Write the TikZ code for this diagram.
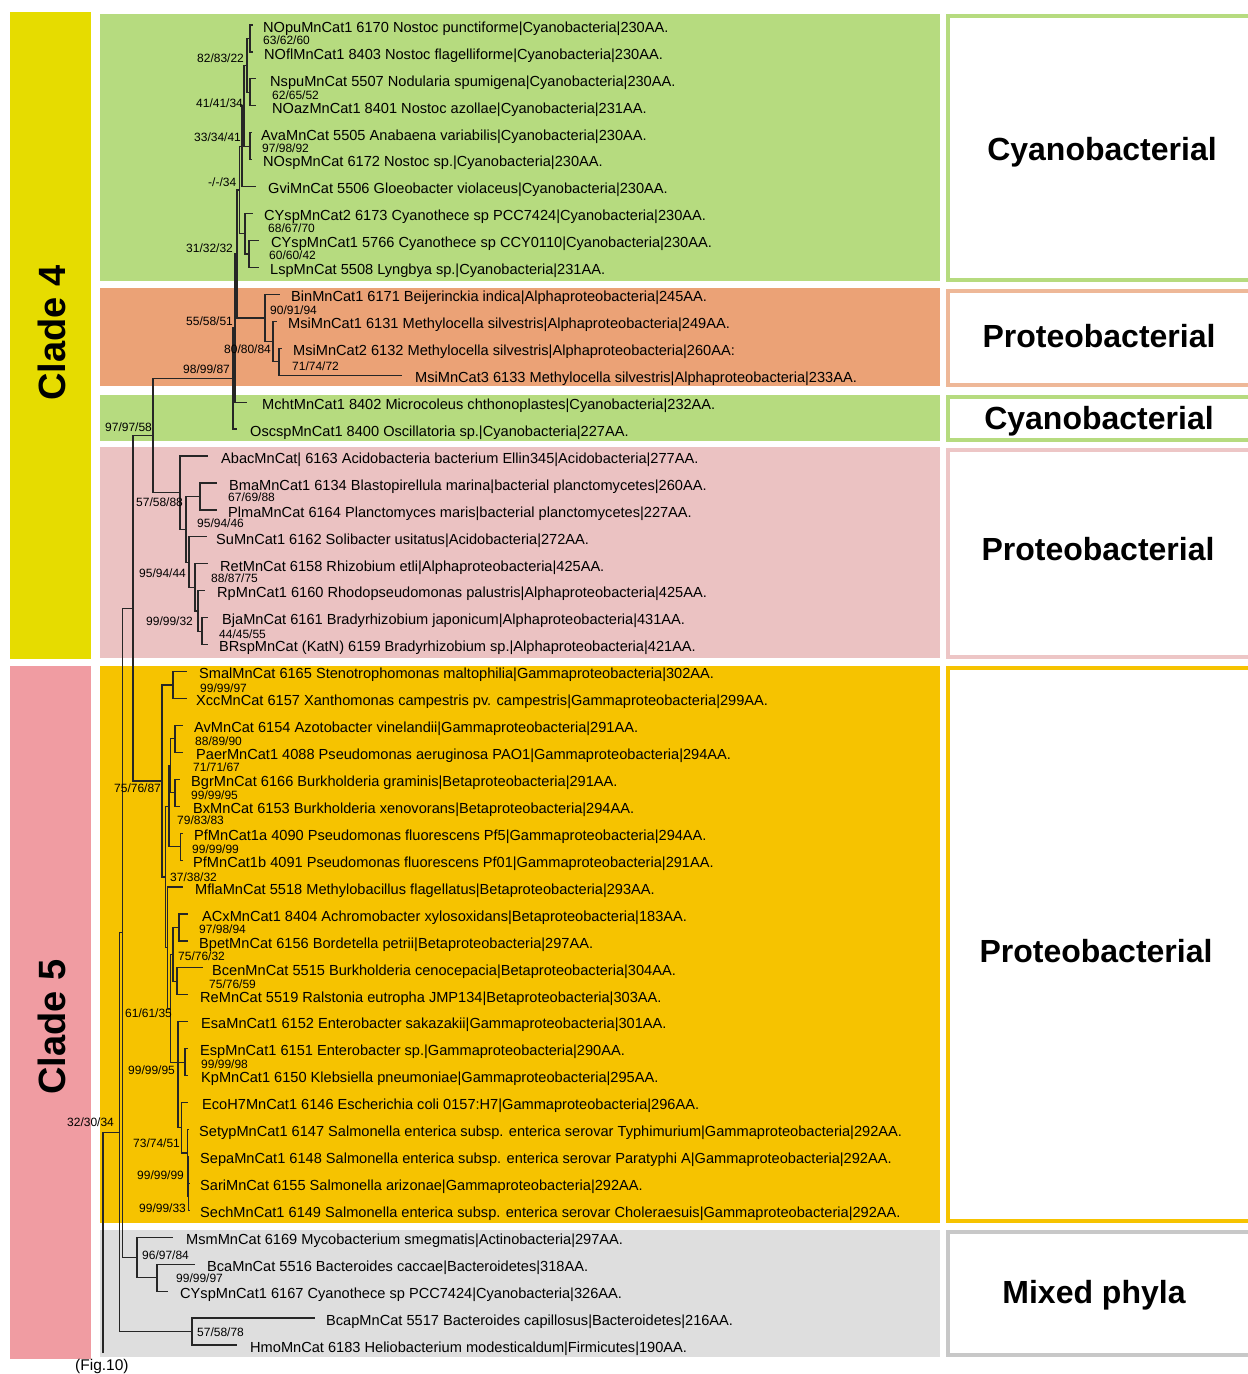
\documentclass[tikz,border=0pt]{standalone}
\usepackage{fontspec}
\setmainfont{Liberation Sans}
\usetikzlibrary{calc}
\definecolor{cgreen}{HTML}{B6DB7F}
\definecolor{corange}{HTML}{EBA276}
\definecolor{cpink}{HTML}{EBC2C2}
\definecolor{cgold}{HTML}{F6C300}
\definecolor{cgray}{HTML}{DEDEDE}
\definecolor{cyellow}{HTML}{E6DC00}
\definecolor{cclade}{HTML}{F09CA2}
\definecolor{oorange}{HTML}{EEB898}
\definecolor{opink}{HTML}{EDC6C6}
\definecolor{ogray}{HTML}{C8C8C8}
\newcommand\lf[5]{\node[lf] (#1) at (#4,#2+1.5) {#5};\coordinate (#1e) at (#3,#2-2);}
\newcommand\br[2]{\draw[tr] (#1) |- (#2);}
\newcommand\bsl[3]{\node[bs] (#1) at (#2) {#3};}
\begin{document}
\begin{tikzpicture}[x=1pt,y=-1pt,
  lf/.style={anchor=west, inner sep=0pt, font=\fontsize{14.6}{17}\selectfont, text height=10.5pt, text depth=3pt},
  bs/.style={anchor=west, inner sep=0pt, font=\fontsize{12}{14}\selectfont},
  tr/.style={draw=black!85, line width=1.2pt},
  ob/.style={line width=4pt},
  bl/.style={font=\fontsize{32}{36}\selectfont\bfseries, inner sep=0pt},
  cl/.style={font=\fontsize{38}{42}\selectfont\bfseries, inner sep=0pt, rotate=90}]
\path[use as bounding box] (0,0) rectangle (1248,1374);
\fill[white] (0,0) rectangle (1248,1374);
% clade bars
\fill[cyellow] (10,12) rectangle (91,659);
\fill[cclade] (10,666) rectangle (91,1359);
% colour bands
\fill[cgreen] (100,14) rectangle (940,281);
\fill[corange] (100,288) rectangle (940,386);
\fill[cgreen] (100,395) rectangle (940,441);
\fill[cpink] (100,447) rectangle (940,658);
\fill[cgold] (100,666) rectangle (940,1223);
\fill[cgray] (100,1230) rectangle (940,1357);
% right boxes
\begin{scope}
\clip (0,0) rectangle (1248,1374);
\draw[ob, draw=cgreen] (948,15.5) rectangle (1262,279.5);
\draw[ob, draw=oorange] (948,290.5) rectangle (1262,384.5);
\draw[ob, draw=cgreen] (948,397) rectangle (1262,439.5);
\draw[ob, draw=opink] (948,449.5) rectangle (1262,656.5);
\draw[ob, draw=cgold] (948,668) rectangle (1262,1221);
\draw[ob, draw=ogray] (948,1232) rectangle (1262,1355);
\end{scope}
\node[bl] (lab1) at (1102,152.5) {Cyanobacterial};
\node[bl] (lab2) at (1099,336.5) {Proteobacterial};
\node[bl] (lab3) at (1099,421.5) {Cyanobacterial};
\node[bl] (lab4) at (1098,549.5) {Proteobacterial};
\node[bl] (lab5) at (1096,951.5) {Proteobacterial};
\node[bl] (lab6) at (1094,1295.5) {Mixed phyla};
\node[cl] (clade4) at (52,333) {Clade 4};
\node[cl] (clade5) at (52,1027) {Clade 5};
\node[lf, anchor=west, font=\fontsize{15.5}{18}\selectfont] (fig) at (75,1367) {(Fig.10)};
% leaves
\lf{t1}{27}{253}{263}{NOpuMnCat1 6170 Nostoc punctiforme|Cyanobacteria|230AA.}
\lf{t2}{53.94}{253}{264}{NOflMnCat1 8403 Nostoc flagelliforme|Cyanobacteria|230AA.}
\lf{t3}{80.88}{256}{270}{NspuMnCat 5507 Nodularia spumigena|Cyanobacteria|230AA.}
\lf{t4}{107.82}{256}{272}{NOazMnCat1 8401 Nostoc azollae|Cyanobacteria|231AA.}
\lf{t5}{134.76}{252}{261}{AvaMnCat 5505 Anabaena variabilis|Cyanobacteria|230AA.}
\lf{t6}{161.7}{252}{263}{NOspMnCat 6172 Nostoc sp.|Cyanobacteria|230AA.}
\lf{t7}{188.63}{256}{268}{GviMnCat 5506 Gloeobacter violaceus|Cyanobacteria|230AA.}
\lf{t8}{215.57}{253}{264}{CYspMnCat2 6173 Cyanothece sp PCC7424|Cyanobacteria|230AA.}
\lf{t9}{242.51}{259}{271}{CYspMnCat1 5766 Cyanothece sp CCY0110|Cyanobacteria|230AA.}
\lf{t10}{269.45}{259}{270}{LspMnCat 5508 Lyngbya sp.|Cyanobacteria|231AA.}
\lf{t11}{296.39}{280}{291}{BinMnCat1 6171 Beijerinckia indica|Alphaproteobacteria|245AA.}
\lf{t12}{323.33}{277}{288}{MsiMnCat1 6131 Methylocella silvestris|Alphaproteobacteria|249AA.}
\lf{t13}{350.27}{282}{293}{MsiMnCat2 6132 Methylocella silvestris|Alphaproteobacteria|260AA:}
\lf{t14}{377.2}{402}{415}{MsiMnCat3 6133 Methylocella silvestris|Alphaproteobacteria|233AA.}
\lf{t15}{404.14}{247}{262}{MchtMnCat1 8402 Microcoleus chthonoplastes|Cyanobacteria|232AA.}
\lf{t16}{431.08}{237}{250}{OscspMnCat1 8400 Oscillatoria sp.|Cyanobacteria|227AA.}
\lf{t17}{458.02}{208}{221}{AbacMnCat| 6163 Acidobacteria bacterium Ellin345|Acidobacteria|277AA.}
\lf{t18}{484.96}{217}{229}{BmaMnCat1 6134 Blastopirellula marina|bacterial planctomycetes|260AA.}
\lf{t19}{511.9}{217}{228}{PlmaMnCat 6164 Planctomyces maris|bacterial planctomycetes|227AA.}
\lf{t20}{538.84}{207}{216}{SuMnCat1 6162 Solibacter usitatus|Acidobacteria|272AA.}
\lf{t21}{565.78}{208}{220}{RetMnCat 6158 Rhizobium etli|Alphaproteobacteria|425AA.}
\lf{t22}{592.71}{205}{217}{RpMnCat1 6160 Rhodopseudomonas palustris|Alphaproteobacteria|425AA.}
\lf{t23}{619.65}{208}{222}{BjaMnCat 6161 Bradyrhizobium japonicum|Alphaproteobacteria|431AA.}
\lf{t24}{646.59}{208}{219}{BRspMnCat (KatN) 6159 Bradyrhizobium sp.|Alphaproteobacteria|421AA.}
\lf{t25}{673.53}{187}{199}{SmalMnCat 6165 Stenotrophomonas maltophilia|Gammaproteobacteria|302AA.}
\lf{t26}{700.47}{187}{196}{XccMnCat 6157 Xanthomonas campestris pv. campestris|Gammaproteobacteria|299AA.}
\lf{t27}{727.41}{183}{194}{AvMnCat 6154 Azotobacter vinelandii|Gammaproteobacteria|291AA.}
\lf{t28}{754.35}{183}{196}{PaerMnCat1 4088 Pseudomonas aeruginosa PAO1|Gammaproteobacteria|294AA.}
\lf{t29}{781.29}{180}{191}{BgrMnCat 6166 Burkholderia graminis|Betaproteobacteria|291AA.}
\lf{t30}{808.22}{180}{193}{BxMnCat 6153 Burkholderia xenovorans|Betaproteobacteria|294AA.}
\lf{t31}{835.16}{183}{194}{PfMnCat1a 4090 Pseudomonas fluorescens Pf5|Gammaproteobacteria|294AA.}
\lf{t32}{862.1}{183}{193}{PfMnCat1b 4091 Pseudomonas fluorescens Pf01|Gammaproteobacteria|291AA.}
\lf{t33}{889.04}{183}{195}{MflaMnCat 5518 Methylobacillus flagellatus|Betaproteobacteria|293AA.}
\lf{t34}{915.98}{188}{202}{ACxMnCat1 8404 Achromobacter xylosoxidans|Betaproteobacteria|183AA.}
\lf{t35}{942.92}{188}{199}{BpetMnCat 6156 Bordetella petrii|Betaproteobacteria|297AA.}
\lf{t36}{969.86}{203}{212}{BcenMnCat 5515 Burkholderia cenocepacia|Betaproteobacteria|304AA.}
\lf{t37}{996.8}{188}{200}{ReMnCat 5519 Ralstonia eutropha JMP134|Betaproteobacteria|303AA.}
\lf{t38}{1023.73}{188}{201}{EsaMnCat1 6152 Enterobacter sakazakii|Gammaproteobacteria|301AA.}
\lf{t39}{1050.67}{188}{200}{EspMnCat1 6151 Enterobacter sp.|Gammaproteobacteria|290AA.}
\lf{t40}{1077.61}{188}{201}{KpMnCat1 6150 Klebsiella pneumoniae|Gammaproteobacteria|295AA.}
\lf{t41}{1104.55}{188}{202}{EcoH7MnCat1 6146 Escherichia coli 0157:H7|Gammaproteobacteria|296AA.}
\lf{t42}{1131.49}{189}{199}{SetypMnCat1 6147 Salmonella enterica subsp. enterica serovar Typhimurium|Gammaproteobacteria|292AA.}
\lf{t43}{1158.43}{189}{200}{SepaMnCat1 6148 Salmonella enterica subsp. enterica serovar Paratyphi A|Gammaproteobacteria|292AA.}
\lf{t44}{1185.37}{189}{200}{SariMnCat 6155 Salmonella arizonae|Gammaproteobacteria|292AA.}
\lf{t45}{1212.31}{189}{200}{SechMnCat1 6149 Salmonella enterica subsp. enterica serovar Choleraesuis|Gammaproteobacteria|292AA.}
\lf{t46}{1239.24}{173}{186}{MsmMnCat 6169 Mycobacterium smegmatis|Actinobacteria|297AA.}
\lf{t47}{1266.18}{195}{207}{BcaMnCat 5516 Bacteroides caccae|Bacteroidetes|318AA.}
\lf{t48}{1293.12}{168}{180}{CYspMnCat1 6167 Cyanothece sp PCC7424|Cyanobacteria|326AA.}
\lf{t49}{1320.06}{315}{326}{BcapMnCat 5517 Bacteroides capillosus|Bacteroidetes|216AA.}
\lf{t50}{1347}{237}{250}{HmoMnCat 6183 Heliobacterium modesticaldum|Firmicutes|190AA.}
% internal nodes
\coordinate (N1) at (250,38.47);
\coordinate (N3) at (250,92.35);
\coordinate (N2) at (247,65.41);
\coordinate (N4) at (250,146.23);
\coordinate (N5) at (244,105.82);
\coordinate (N6) at (242,146.23);
\coordinate (N9) at (249,253.98);
\coordinate (N8) at (245,233.78);
\coordinate (N7) at (239.5,190.0);
\coordinate (B1) at (279,361.74);
\coordinate (B2) at (273,341.53);
\coordinate (B3) at (265,317.96);
\coordinate (Q) at (237,253.98);
\coordinate (P) at (235,328.06);
\coordinate (R4) at (233,378.57);
\coordinate (G1) at (200,496.43);
\coordinate (G2) at (202,631.12);
\coordinate (G3) at (198,610.92);
\coordinate (G4) at (195,587.35);
\coordinate (G5) at (189,562.1);
\coordinate (G6) at (186,529.27);
\coordinate (G7) at (180,492.65);
\coordinate (C4) at (153,435.61);
\coordinate (Y1) at (173,685.0);
\coordinate (Y2) at (175,738.88);
\coordinate (Y3) at (175,792.76);
\coordinate (Y4) at (170.5,765.82);
\coordinate (Y5) at (180.5,846.63);
\coordinate (Y6) at (169,806.22);
\coordinate (Y9) at (179,927.45);
\coordinate (Y10) at (177,981.33);
\coordinate (Y11) at (173,954.39);
\coordinate (Y12) at (185,1062.14);
\coordinate (S1) at (188.5,1196.84);
\coordinate (S2) at (188,1176.63);
\coordinate (S3) at (187.5,1153.06);
\coordinate (Y13) at (181.5,1127.8);
\coordinate (Y15) at (178,1062.14);
\coordinate (Y16) at (170.5,1008.27);
\coordinate (X) at (167.5,947.65);
\coordinate (Y8) at (165.5,876.94);
\coordinate (G) at (162,780.97);
\coordinate (A133) at (133,608.29);
\coordinate (M2) at (157,1277.65);
\coordinate (M) at (137,1257.45);
\coordinate (A122) at (122.5,932.87);
\coordinate (B2x) at (192,1331.53);
\coordinate (A120) at (119.5,1132.2);
\coordinate (root) at (103,1132.2);
\coordinate (rootb) at (103,1353);
% branches
\br{N1}{t1e}\br{N1}{t2e}
\br{N3}{t3e}\br{N3}{t4e}
\br{N2}{N1}\br{N2}{N3}
\br{N4}{t5e}\br{N4}{t6e}
\br{N5}{N2}\br{N5}{N4}
\br{N6}{N5}\br{N6}{t7e}
\br{N9}{t9e}\br{N9}{t10e}
\br{N8}{t8e}\br{N8}{N9}
\br{N7}{N6}\br{N7}{N8}
\br{B1}{t13e}\br{B1}{t14e}
\br{B2}{t12e}\br{B2}{B1}
\br{B3}{t11e}\br{B3}{B2}
\br{Q}{N7}\br{Q}{B3}
\br{P}{Q}\br{P}{t15e}
\br{R4}{P}\br{R4}{t16e}
\br{G1}{t18e}\br{G1}{t19e}
\br{G2}{t23e}\br{G2}{t24e}
\br{G3}{t22e}\br{G3}{G2}
\br{G4}{t21e}\br{G4}{G3}
\br{G5}{t20e}\br{G5}{G4}
\br{G6}{G1}\br{G6}{G5}
\br{G7}{t17e}\br{G7}{G6}
\br{C4}{R4}\br{C4}{G7}
\br{Y1}{t25e}\br{Y1}{t26e}
\br{Y2}{t27e}\br{Y2}{t28e}
\br{Y3}{t29e}\br{Y3}{t30e}
\br{Y4}{Y2}\br{Y4}{Y3}
\br{Y5}{t31e}\br{Y5}{t32e}
\br{Y6}{Y4}\br{Y6}{Y5}
\br{Y9}{t34e}\br{Y9}{t35e}
\br{Y10}{t36e}\br{Y10}{t37e}
\br{Y11}{Y9}\br{Y11}{Y10}
\br{Y12}{t39e}\br{Y12}{t40e}
\br{S1}{t44e}\br{S1}{t45e}
\br{S2}{t43e}\br{S2}{S1}
\br{S3}{t42e}\br{S3}{S2}
\br{Y13}{t41e}\br{Y13}{S3}
\br{Y15}{t38e}\br{Y15}{Y12}\br{Y15}{Y13}
\br{Y16}{Y11}\br{Y16}{Y15}
\br{X}{t33e}\br{X}{Y16}
\br{Y8}{Y6}\br{Y8}{X}
\br{G}{Y1}\br{G}{Y8}
\br{A133}{C4}\br{A133}{G}
\br{M2}{t47e}\br{M2}{t48e}
\br{M}{t46e}\br{M}{M2}
\br{A122}{A133}\br{A122}{M}
\br{B2x}{t49e}\br{B2x}{t50e}
\br{A120}{A122}\br{A120}{B2x}
\draw[tr] (rootb) -- (root) -- (A120);
% bootstrap values
\bsl{b1}{263,40}{63/62/60}
\bsl{b2}{197,58}{82/83/22}
\bsl{b3}{272,95}{62/65/52}
\bsl{b4}{196,103}{41/41/34}
\bsl{b5}{194,137}{33/34/41}
\bsl{b6}{262,148}{97/98/92}
\bsl{b7}{208,182}{-/-/34}
\bsl{b8}{268,228}{68/67/70}
\bsl{b9}{186,248}{31/32/32}
\bsl{b10}{269,255}{60/60/42}
\bsl{b11}{270,310}{90/91/94}
\bsl{b12}{186,321}{55/58/51}
\bsl{b13}{224,349}{80/80/84}
\bsl{b14}{292,366}{71/74/72}
\bsl{b15}{183,369}{98/99/87}
\bsl{b16}{105,427}{97/97/58}
\bsl{b17}{228,497}{67/69/88}
\bsl{b18}{136,502}{57/58/88}
\bsl{b19}{197,523}{95/94/46}
\bsl{b20}{139,573}{95/94/44}
\bsl{b21}{211,578}{88/87/75}
\bsl{b22}{146,621}{99/99/32}
\bsl{b23}{219,634}{44/45/55}
\bsl{b24}{200,688}{99/99/97}
\bsl{b25}{195,741}{88/89/90}
\bsl{b26}{193,767}{71/71/67}
\bsl{b27}{114,788}{75/76/87}
\bsl{b28}{191,795}{99/99/95}
\bsl{b29}{177,820}{79/83/83}
\bsl{b30}{192,849}{99/99/99}
\bsl{b31}{170,877}{37/38/32}
\bsl{b32}{199,929}{97/98/94}
\bsl{b33}{178,956}{75/76/32}
\bsl{b34}{209,984}{75/76/59}
\bsl{b35}{125,1013}{61/61/35}
\bsl{b36}{201,1064}{99/99/98}
\bsl{b37}{128,1070}{99/99/95}
\bsl{b38}{67,1122}{32/30/34}
\bsl{b39}{133,1143}{73/74/51}
\bsl{b40}{137,1175}{99/99/99}
\bsl{b41}{139,1208}{99/99/33}
\bsl{b42}{142,1255}{96/97/84}
\bsl{b43}{176,1278}{99/99/97}
\bsl{b44}{197,1332}{57/58/78}
\end{tikzpicture}
\end{document}
